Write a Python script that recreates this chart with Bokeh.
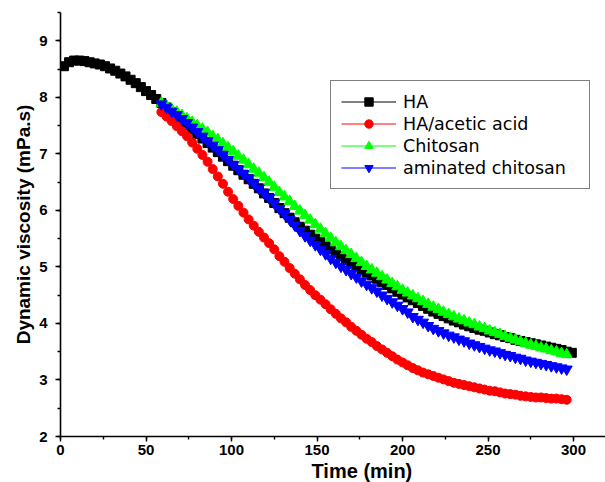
from bokeh.plotting import figure
from bokeh.models import (Range1d, SingleIntervalTicker, Legend, LegendItem, Title,
                          ColumnDataSource)
from bokeh.embed import file_html
from bokeh.resources import INLINE

# ---- data ----
time_ha = list(range(2, 300, 3))          # 2 ... 299 min
visc_ha = [8.55, 8.62, 8.65, 8.65, 8.64, 8.62, 8.60, 8.58, 8.55, 8.51,
           8.47, 8.42, 8.37, 8.31, 8.25, 8.18, 8.11, 8.04, 7.97,
           7.90, 7.82, 7.74, 7.66, 7.58, 7.51, 7.43, 7.35, 7.27, 7.19,
           7.11, 7.03, 6.95, 6.87, 6.79, 6.71, 6.63, 6.55, 6.47, 6.39,
           6.30, 6.22, 6.13, 6.04, 5.95, 5.87, 5.79, 5.71, 5.64, 5.57,
           5.50, 5.44, 5.37, 5.31, 5.25, 5.19, 5.13, 5.08, 5.02, 4.96,
           4.90, 4.85, 4.79, 4.73, 4.68, 4.62, 4.56, 4.51, 4.46, 4.41,
           4.36, 4.31, 4.26, 4.21, 4.17, 4.13, 4.09, 4.05, 4.02, 3.98,
           3.95, 3.92, 3.89, 3.87, 3.84, 3.81, 3.79, 3.76, 3.74, 3.71,
           3.69, 3.67, 3.65, 3.63, 3.61, 3.59, 3.57, 3.55, 3.53, 3.50,
           3.48]

time_mod = list(range(59, 297, 3))        # 59 ... 296 min
visc_acetic = [7.74, 7.66, 7.58, 7.49, 7.40, 7.31, 7.20, 7.09, 6.98, 6.86,
               6.73, 6.60, 6.47, 6.33, 6.20, 6.08, 5.96, 5.84, 5.73, 5.62,
               5.52, 5.42, 5.31, 5.19, 5.09, 4.98, 4.88, 4.78, 4.68, 4.59,
               4.50, 4.42, 4.34, 4.25, 4.17, 4.09, 4.02, 3.94, 3.87, 3.80,
               3.73, 3.67, 3.60, 3.54, 3.48, 3.42, 3.36, 3.31, 3.26, 3.21,
               3.17, 3.13, 3.10, 3.07, 3.04, 3.01, 2.98, 2.95, 2.93, 2.91,
               2.89, 2.87, 2.85, 2.83, 2.81, 2.80, 2.78, 2.76, 2.75, 2.74,
               2.72, 2.71, 2.70, 2.69, 2.69, 2.68, 2.67, 2.67, 2.66, 2.65]
visc_chitosan = [7.90, 7.85, 7.79, 7.74, 7.68, 7.62, 7.56, 7.50, 7.44, 7.38,
                 7.31, 7.25, 7.18, 7.11, 7.04, 6.96, 6.89, 6.81, 6.73, 6.66,
                 6.58, 6.50, 6.41, 6.32, 6.24, 6.16, 6.07, 5.99, 5.91, 5.83,
                 5.75, 5.67, 5.59, 5.51, 5.43, 5.36, 5.29, 5.22, 5.15, 5.08,
                 5.01, 4.95, 4.89, 4.83, 4.77, 4.71, 4.65, 4.59, 4.54, 4.49,
                 4.44, 4.39, 4.34, 4.29, 4.25, 4.20, 4.16, 4.12, 4.08, 4.05,
                 4.01, 3.98, 3.94, 3.91, 3.87, 3.84, 3.81, 3.77, 3.74, 3.71,
                 3.68, 3.65, 3.62, 3.60, 3.57, 3.55, 3.52, 3.50, 3.47, 3.45]
visc_aminated = [7.88, 7.82, 7.75, 7.69, 7.62, 7.55, 7.47, 7.39, 7.31, 7.23,
                 7.15, 7.07, 6.99, 6.90, 6.81, 6.73, 6.65, 6.57, 6.48, 6.39,
                 6.31, 6.22, 6.13, 6.03, 5.94, 5.84, 5.74, 5.64, 5.55, 5.47,
                 5.39, 5.31, 5.23, 5.15, 5.08, 5.01, 4.95, 4.88, 4.82, 4.75,
                 4.69, 4.63, 4.57, 4.50, 4.44, 4.38, 4.32, 4.26, 4.20, 4.12,
                 4.07, 4.02, 3.96, 3.91, 3.87, 3.83, 3.79, 3.76, 3.72, 3.69,
                 3.65, 3.62, 3.59, 3.56, 3.53, 3.51, 3.48, 3.45, 3.43, 3.40,
                 3.38, 3.35, 3.33, 3.31, 3.29, 3.27, 3.25, 3.23, 3.21, 3.19]

series_labels = ["HA", "HA/acetic acid", "Chitosan", "aminated chitosan"]
x_title = "Time (min)"
y_title = "Dynamic viscosity (mPa.s)"

# ---- figure ----
p = figure(width=605, height=482, output_backend="svg", toolbar_location=None,
           x_range=Range1d(0, 318.7), y_range=Range1d(2, 9.5),
           min_border_left=60, min_border_right=0, min_border_top=12,
           min_border_bottom=46)
p.outline_line_color = None
p.xgrid.visible = False
p.ygrid.visible = False
p.background_fill_color = "white"

p.xaxis.ticker = SingleIntervalTicker(interval=50, num_minor_ticks=2)
p.yaxis.ticker = SingleIntervalTicker(interval=1, num_minor_ticks=2)
for ax in (p.xaxis, p.yaxis):
    ax.axis_line_width = 1.6
    ax.axis_line_color = "black"
    ax.major_tick_line_width = 1.4
    ax.minor_tick_line_width = 1.4
    ax.major_tick_out = 5
    ax.major_tick_in = 0
    ax.minor_tick_out = 3
    ax.minor_tick_in = 0
    ax.major_label_text_font = "Liberation Sans"
    ax.major_label_text_font_style = "bold"
    ax.major_label_text_font_size = "15px"
    ax.major_label_text_color = "black"
p.xaxis.major_label_standoff = 3
p.yaxis.major_label_standoff = 8

p.yaxis.axis_label = y_title
p.yaxis.axis_label_standoff = 2
p.yaxis.axis_label_text_font = "Liberation Sans"
p.yaxis.axis_label_text_font_style = "bold"
p.yaxis.axis_label_text_font_size = "19px"
p.yaxis.axis_label_text_color = "black"

xt = Title(text=x_title, align="left", offset=251, standoff=0,
           text_font="Liberation Sans", text_font_style="bold",
           text_font_size="20px", text_color="black")
p.add_layout(xt, "below")

# ---- series ----
src_ha = ColumnDataSource(dict(t=time_ha, v=visc_ha))
src_ac = ColumnDataSource(dict(t=time_mod, v=visc_acetic))
src_ch = ColumnDataSource(dict(t=time_mod, v=visc_chitosan))
src_am = ColumnDataSource(dict(t=time_mod, v=visc_aminated))

l1 = p.line("t", "v", source=src_ha, line_color="black", line_width=1)
s1 = p.scatter("t", "v", source=src_ha, marker="square", size=9,
               fill_color="black", line_color="black")
l2 = p.line("t", "v", source=src_ac, line_color="#ff0000", line_width=1)
s2 = p.scatter("t", "v", source=src_ac, marker="circle", size=9,
               fill_color="#ff0000", line_color="#ff0000")
l3 = p.line("t", "v", source=src_ch, line_color="#00ff00", line_width=1)
s3 = p.scatter("t", "v", source=src_ch, marker="triangle", size=11,
               fill_color="#00ff00", line_color="#00ff00")
l4 = p.line("t", "v", source=src_am, line_color="#0000ff", line_width=1)
s4 = p.scatter("t", "v", source=src_am, marker="inverted_triangle", size=11,
               fill_color="#0000ff", line_color="#0000ff")

legend = Legend(items=[
    LegendItem(label=series_labels[0], renderers=[l1, s1]),
    LegendItem(label=series_labels[1], renderers=[l2, s2]),
    LegendItem(label=series_labels[2], renderers=[l3, s3]),
    LegendItem(label=series_labels[3], renderers=[l4, s4]),
])
legend.location = (270, 247)
legend.padding = 10
legend.spacing = 1
legend.margin = 0
legend.glyph_width = 55
legend.glyph_height = 21
legend.label_height = 21
legend.label_width = 176
legend.label_standoff = 7
legend.label_text_font = "DejaVu Sans"
legend.label_text_font_size = "17.5px"
legend.label_text_color = "black"
legend.border_line_color = "black"
legend.border_line_width = 1
legend.background_fill_color = "white"
legend.background_fill_alpha = 1
p.add_layout(legend)

open("out.html", "w").write(file_html(p, INLINE))
